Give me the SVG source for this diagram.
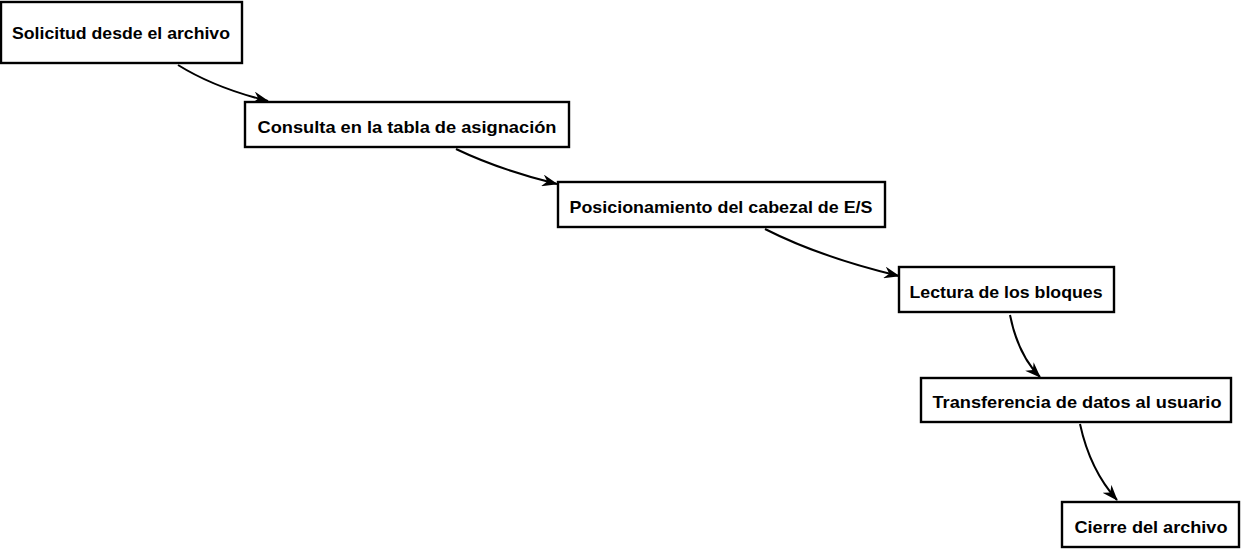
<svg xmlns="http://www.w3.org/2000/svg" width="1242" height="550" viewBox="0 0 1242 550">
<style>
.box{fill:#fff;stroke:#000;stroke-width:2.4}
.lbl{font-family:"Liberation Sans",Arial,sans-serif;font-weight:bold;font-size:17px;fill:#000;text-anchor:middle}
.edge{fill:none;stroke:#000;stroke-width:2}
</style>
<defs>
<marker id="ah" viewBox="0 0 16 12" refX="15" refY="6" markerWidth="16" markerHeight="12" markerUnits="userSpaceOnUse" orient="auto">
<path d="M0,0 L16,6 L0,12 L5,6 z" fill="#000"/>
</marker>
</defs>
<rect width="1242" height="550" fill="#fff"/>
<g id="connectors">
<path class="edge" d="M178,65 Q215,88 268,101" marker-end="url(#ah)"/>
<path class="edge" d="M456,149 Q500,170 557,184" marker-end="url(#ah)"/>
<path class="edge" d="M765,229 Q820,257 899,276" marker-end="url(#ah)"/>
<path class="edge" d="M1010,315 Q1018,355 1040,377" marker-end="url(#ah)"/>
<path class="edge" d="M1080,424 Q1090,470 1117,500" marker-end="url(#ah)"/>
</g>
<g id="n1"><rect class="box" x="1" y="2" width="241" height="61"/><text class="lbl" x="121" y="39" textLength="218" lengthAdjust="spacingAndGlyphs">Solicitud desde el archivo</text></g>
<g id="n2"><rect class="box" x="245" y="102" width="324" height="45"/><text class="lbl" x="407" y="133" textLength="299" lengthAdjust="spacingAndGlyphs">Consulta en la tabla de asignación</text></g>
<g id="n3"><rect class="box" x="558" y="182" width="327" height="45"/><text class="lbl" x="721" y="213" textLength="303" lengthAdjust="spacingAndGlyphs">Posicionamiento del cabezal de E/S</text></g>
<g id="n4"><rect class="box" x="899" y="267" width="215" height="45"/><text class="lbl" x="1006" y="298" textLength="193" lengthAdjust="spacingAndGlyphs">Lectura de los bloques</text></g>
<g id="n5"><rect class="box" x="921" y="378" width="310" height="44"/><text class="lbl" x="1077" y="408" textLength="289" lengthAdjust="spacingAndGlyphs">Transferencia de datos al usuario</text></g>
<g id="n6"><rect class="box" x="1062" y="502" width="177" height="45"/><text class="lbl" x="1151" y="533" textLength="153" lengthAdjust="spacingAndGlyphs">Cierre del archivo</text></g>
</svg>
